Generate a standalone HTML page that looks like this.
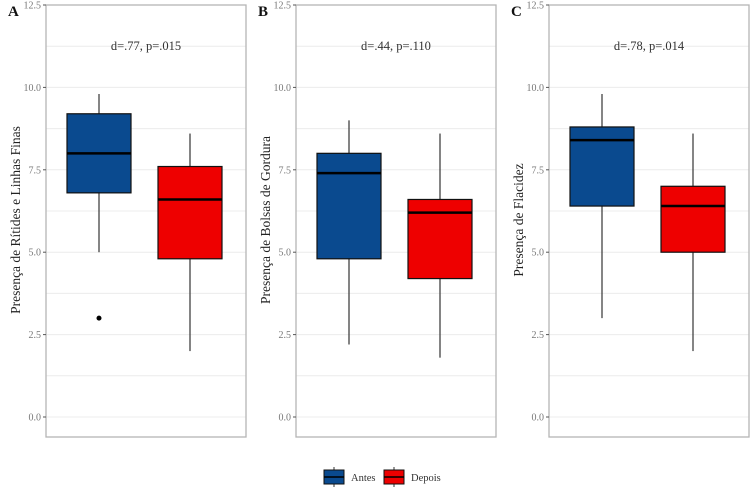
<!DOCTYPE html>
<html><head><meta charset="utf-8"><style>
html,body{margin:0;padding:0;background:#fff;}
svg text{font-family:"Liberation Serif",serif;}
</style></head><body>
<svg id="chart" width="750" height="492" viewBox="0 0 750 492" xmlns="http://www.w3.org/2000/svg"></svg>
<script>
const panelLabels = ["A","B","C"];
const panelTitles = ["Presença de Rítides e Linhas Finas","Presença de Bolsas de Gordura","Presença de Flacidez"];
const annotations = ["d=.77, p=.015","d=.44, p=.110","d=.78, p=.014"];
const groups = ["Antes","Depois"];
const groupColors = ["#0a4a8f","#ee0000"];
// each: [min, q1, median, q3, max] per panel per group
const antesStats = [[5.0,6.8,8.0,9.2,9.8],[2.2,4.8,7.4,8.0,9.0],[3.0,6.4,8.4,8.8,9.8]];
const depoisStats = [[2.0,4.8,6.6,7.6,8.6],[1.8,4.2,6.2,6.6,8.6],[2.0,5.0,6.4,7.0,8.6]];
const outliers = [[[0,3.0]],[],[]]; // [groupIndex, value]
const yTicks = [0,2.5,5,7.5,10,12.5];
const yTickLabels = ["0.0","2.5","5.0","7.5","10.0","12.5"];

const svg = document.getElementById('chart');
const NS = "http://www.w3.org/2000/svg";
function mk(tag, attrs, parent){const e=document.createElementNS(NS,tag);for(const k in attrs)e.setAttribute(k,attrs[k]);(parent||svg).appendChild(e);return e;}
const panelLeft=[46,296,549], panelW=200, plotTop=5, plotBottom=437;
const y0=417, y125=5;
function yScale(v){return y0-(v/12.5)*(y0-y125);}
function xScale(p,g){return panelLeft[p]+53+g*91;}
const boxW=64;

for(let p=0;p<3;p++){
  const L=panelLeft[p];
  const g=mk('g',{},svg);
  
  
  for(let v=0; v<=12.5; v+=1.25){
    const ln=mk('line',{x1:L,x2:L+panelW,y1:yScale(v),y2:yScale(v),stroke:'#ececec','stroke-width':1},g);
    
    
  }
  const fr=mk('rect',{x:L,y:plotTop,width:panelW,height:plotBottom-plotTop,fill:'none',stroke:'#b5b5b5','stroke-width':1.3},g);
  
  
  yTicks.forEach((v,i)=>{
    const t=mk('line',{x1:L-3,x2:L,y1:yScale(v),y2:yScale(v),stroke:'#555'},g);
    
    
    const tx=mk('text',{x:L-5,y:yScale(v)+3.5,'text-anchor':'end','font-size':10,fill:'#777'},g);
    tx.textContent=yTickLabels[i];
    
    
  });
  const pl=mk('text',{x:L-38,y:16,'font-size':15,'font-weight':'bold',fill:'#111'},g);
  pl.textContent=panelLabels[p];
  
  
  const yt=mk('text',{x:0,y:0,'text-anchor':'middle','font-size':13.5,fill:'#222',transform:`translate(${L-26},${220}) rotate(-90)`},g);
  yt.textContent=panelTitles[p];
  
  
  const an=mk('text',{x:L+panelW/2,y:yScale(11.25)+4,'text-anchor':'middle','font-size':12.5,fill:'#333'},g);
  an.textContent=annotations[p];
  
  
  [antesStats[p],depoisStats[p]].forEach((s,gi)=>{
    const cx=xScale(p,gi);
    const bg=mk('g',{},g);
    
    
    mk('line',{x1:cx,x2:cx,y1:yScale(s[3]),y2:yScale(s[4]),stroke:'#333','stroke-width':1.2},bg);
    mk('line',{x1:cx,x2:cx,y1:yScale(s[0]),y2:yScale(s[1]),stroke:'#333','stroke-width':1.2},bg);
    mk('rect',{x:cx-boxW/2,y:yScale(s[3]),width:boxW,height:yScale(s[1])-yScale(s[3]),fill:groupColors[gi],stroke:'#111','stroke-width':1.2},bg);
    mk('line',{x1:cx-boxW/2,x2:cx+boxW/2,y1:yScale(s[2]),y2:yScale(s[2]),stroke:'#000','stroke-width':2.5},bg);
  });
  outliers[p].forEach(o=>{
    const c=mk('circle',{cx:xScale(p,o[0]),cy:yScale(o[1]),r:2.5,fill:'#000'},g);
    
    
  });
}
const lg=mk('g',{},svg);


const legX=[324,384];
groups.forEach((nm,i)=>{
  const e=mk('g',{},lg);
  
  
  const x=legX[i];
  mk('line',{x1:x+10,x2:x+10,y1:467,y2:487,stroke:'#333'},e);
  mk('rect',{x:x,y:470,width:20,height:14,fill:groupColors[i],stroke:'#111'},e);
  mk('line',{x1:x,x2:x+20,y1:477,y2:477,stroke:'#000','stroke-width':1.5},e);
  const t=mk('text',{x:x+27,y:481,'font-size':10.5,fill:'#333'},e);
  t.textContent=nm;
});
</script>
</body></html>
